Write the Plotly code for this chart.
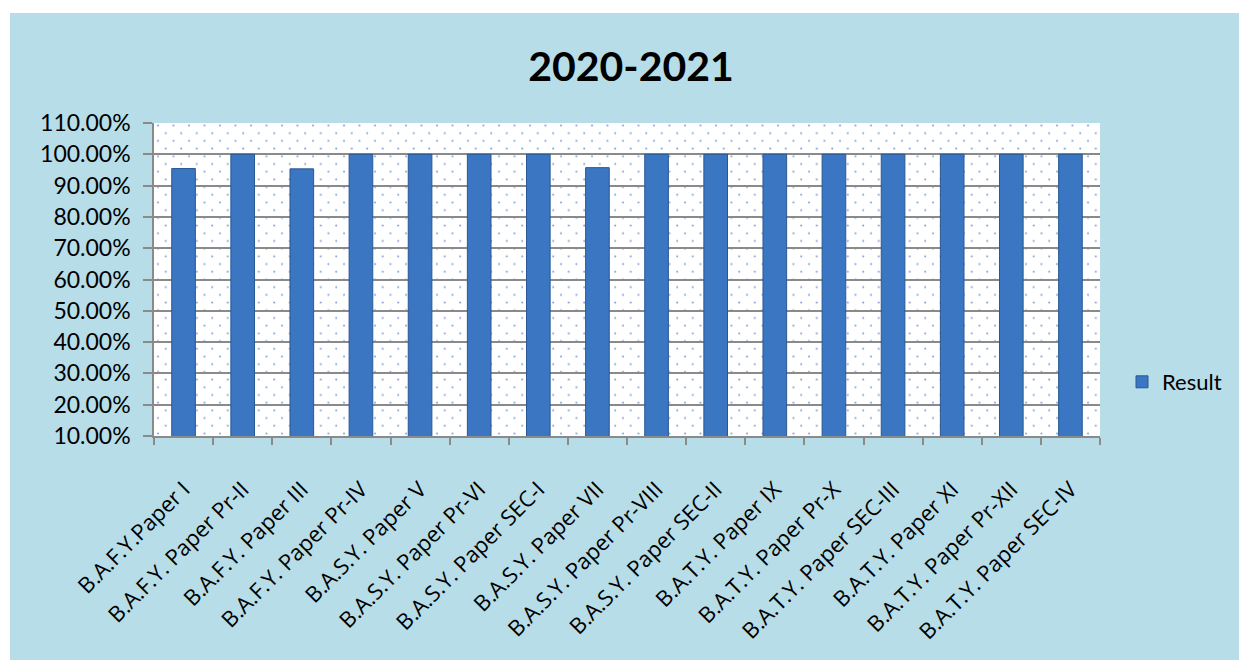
import base64
import plotly.graph_objects as go

categories = [
    "B.A.F.Y.Paper I",
    "B.A.F.Y. Paper Pr-II",
    "B.A.F.Y. Paper III",
    "B.A.F.Y. Paper Pr-IV",
    "B.A.S.Y. Paper V",
    "B.A.S.Y. Paper Pr-VI",
    "B.A.S.Y. Paper SEC-I",
    "B.A.S.Y. Paper VII",
    "B.A.S.Y. Paper Pr-VIII",
    "B.A.S.Y. Paper SEC-II",
    "B.A.T.Y. Paper IX",
    "B.A.T.Y. Paper Pr-X",
    "B.A.T.Y. Paper SEC-III",
    "B.A.T.Y. Paper XI",
    "B.A.T.Y. Paper Pr-XII",
    "B.A.T.Y. Paper SEC-IV",
]
result = [0.9545, 1.0, 0.9535, 1.0, 1.0, 1.0, 1.0, 0.9574,
          1.0, 1.0, 1.0, 1.0, 1.0, 1.0, 1.0, 1.0]
series_name = "Result"
title_text = "2020-2021"

W, H = 1239, 660
L, R, T, B = 154, 139, 123, 224
PW, PH = W - L - R, H - T - B

def px_x(p):
    return (p - L) / PW

def px_y(p):
    return (H - B - p) / PH

BG = "#b7dde8"
GRID = "#8a8a8a"
FONT = "Lato"
XFONT = "Open Sans"

# dotted texture for the plot area background (decoration only)
svg = (
    f'<svg xmlns="http://www.w3.org/2000/svg" width="{PW}" height="{PH}">'
    '<defs><pattern id="d" width="15.5" height="15.4" patternUnits="userSpaceOnUse">'
    '<circle cx="4" cy="2.5" r="1.05" fill="#7fa3da"/>'
    '<circle cx="11.75" cy="10.2" r="1.05" fill="#7fa3da"/>'
    '</pattern></defs>'
    f'<rect width="{PW}" height="{PH}" fill="#ffffff"/>'
    f'<rect width="{PW}" height="{PH}" fill="url(#d)"/>'
    '</svg>'
)
svg_uri = "data:image/svg+xml;base64," + base64.b64encode(svg.encode()).decode()

fig = go.Figure()
fig.add_trace(go.Bar(
    x=categories, y=result, name=series_name,
    width=0.4,
    marker=dict(color="#3a76c2", line=dict(color="#2a5893", width=1)),
    showlegend=True,
))

fig.update_layout(
    width=W, height=H,
    margin=dict(l=L, r=R, t=T, b=B, autoexpand=False),
    paper_bgcolor=BG,
    plot_bgcolor="#ffffff",
    font=dict(family=FONT, size=21, color="#000000"),
    title=dict(text="<b>" + title_text + "</b>", x=631 / W, xanchor="center",
               y=1 - 67 / H, yanchor="middle",
               font=dict(family=FONT, size=41, color="#000000")),
    showlegend=True,
    legend=dict(x=px_x(1122), y=px_y(382), xanchor="left", yanchor="middle",
                bgcolor="rgba(0,0,0,0)", font=dict(size=22, family=FONT)),
    xaxis=dict(
        type="category",
        tickangle=-45,
        ticks="outside", ticklen=7, tickcolor=GRID, tickwidth=1.5,
        tickson="boundaries",
        showgrid=False,
        showline=True, linecolor=GRID, linewidth=1.5,
        tickfont=dict(size=22, family=XFONT),
        ticklabelstandoff=30,
    ),
    yaxis=dict(
        range=[0.10, 1.10],
        dtick=0.1, tick0=0.1,
        tickformat=".2%",
        ticks="outside", ticklen=9, tickcolor=GRID, tickwidth=1.5,
        showgrid=True, gridcolor=GRID, gridwidth=1.5,
        showline=True, linecolor=GRID, linewidth=1.5,
        zeroline=False,
        tickfont=dict(size=23, family=FONT),
        ticklabelstandoff=8,
    ),
    images=[dict(source=svg_uri, xref="paper", yref="paper", x=0, y=1,
                 sizex=1, sizey=1, sizing="stretch", xanchor="left",
                 yanchor="top", layer="below")],
    shapes=[
        dict(type="rect", xref="paper", yref="paper",
             x0=px_x(-5), x1=px_x(10), y0=px_y(H + 5), y1=px_y(-5),
             fillcolor="#ffffff", line=dict(width=0), layer="below"),
        dict(type="rect", xref="paper", yref="paper",
             x0=px_x(-5), x1=px_x(W + 5), y0=px_y(13), y1=px_y(-5),
             fillcolor="#ffffff", line=dict(width=0), layer="below"),
    ],
)

fig.write_html("out.html", config={"displayModeBar": False},
               post_script="document.body.style.margin='0';")
